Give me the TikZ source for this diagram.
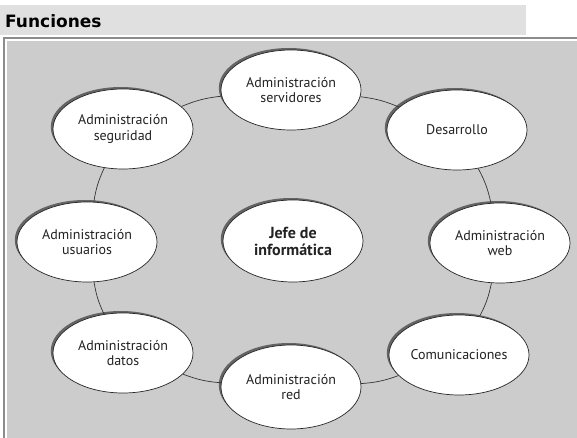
\documentclass[tikz,border=0pt]{standalone}
\usepackage{fontspec}
\setmainfont{PT Sans}
\newfontfamily\titlefont{DejaVu Sans}
\usetikzlibrary{shapes.geometric,shadows}
\definecolor{titlebg}{HTML}{E0E0E0}
\definecolor{panelbg}{HTML}{CCCCCC}
\definecolor{framec}{HTML}{8C8C8C}
\definecolor{txt}{HTML}{222222}
\tikzset{
  bubble/.style={ellipse, draw=black!85, line width=0.7pt, fill=white,
    minimum width=140pt, minimum height=80pt, inner sep=0pt, align=center,
    font=\fontsize{14}{15.5}\selectfont, text=txt,
    drop shadow={shadow xshift=-2.2pt, shadow yshift=2pt, fill=black!65, opacity=0.9}},
  link/.style={draw=black!80, line width=0.7pt, bend left=8}
}
\begin{document}
\begin{tikzpicture}[x=1pt,y=1pt]
\useasboundingbox (0,0) rectangle (577,-438);
\fill[white] (0,0) rectangle (577,-438);
% title bar
\fill[titlebg] (0,-5) rectangle (526,-35);
\node[anchor=base west, inner sep=0pt, font=\titlefont\bfseries\fontsize{17}{19}\selectfont] (title) at (5,-28) {Funciones};
% frame
\draw[framec, line width=2pt] (4,-480) -- (4,-38) -- (620,-38);
\fill[panelbg] (7,-41) rectangle (600,-460);
% nodes
\node[bubble] (serv) at (291,-90) {Administración\\servidores};
\node[bubble] (des) at (457,-130) {Desarrollo};
\node[bubble] (web) at (500,-243) {Administración\\web};
\node[bubble] (com) at (459,-355) {Comunicaciones};
\node[bubble, minimum height=84pt] (red) at (291,-387) {Administración\\red};
\node[bubble] (dat) at (123,-353) {Administración\\datos};
\node[bubble] (usu) at (87,-242) {Administración\\usuarios};
\node[bubble] (seg) at (123,-129) {Administración\\seguridad};
\node[bubble, font=\bfseries\fontsize{16}{17}\selectfont, minimum height=82pt] (jefe) at (293,-241) {Jefe de\\informática};
% ring connectors
\draw[link] (serv) to (des);
\draw[link] (des) to (web);
\draw[link] (web) to (com);
\draw[link] (com) to (red);
\draw[link] (red) to (dat);
\draw[link] (dat) to (usu);
\draw[link] (usu) to (seg);
\draw[link] (seg) to (serv);
\end{tikzpicture}
\end{document}
